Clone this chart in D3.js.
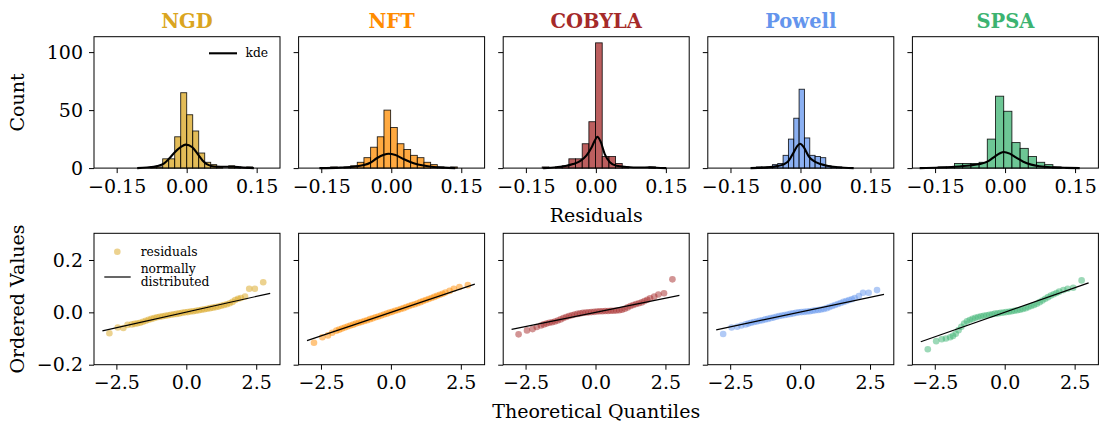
<!DOCTYPE html>
<html>
<head>
<meta charset="utf-8">
<script src="https://cdn.jsdelivr.net/npm/d3@7"></script>
<style>
  body { margin: 0; background: #fff; }
  text { font-family: "DejaVu Serif", serif; }
</style>
</head>
<body>
<svg id="chart" width="1099" height="423"></svg>
<script>
const optimizers = ["NGD", "NFT", "COBYLA", "Powell", "SPSA"];
const colors = ["#DAA520", "#FF8C00", "#A52A2A", "#6495ED", "#3CB371"];

// histogram: left edge of first bin, bin width, counts per bin
const binStart = [-0.0771, -0.1300, -0.1150, -0.0944, -0.1435];
const binWidth = [0.01286, 0.01429, 0.01429, 0.01143, 0.01757];
const histNGD    = [1, 1, 8, 8, 27, 65, 46, 32, 13, 5, 3, 1, 0, 2, 1, 0, 1];
const histNFT    = [1, 0, 1, 2, 5, 9, 18, 27, 50, 35, 21, 16, 11, 9, 5, 3, 1, 0, 1];
const histCOBYLA = [1, 0, 1, 2, 8, 8, 21, 40, 108, 10, 10, 4, 1, 0, 0, 0, 1];
const histPowell = [1, 1, 1, 3, 4, 11, 25, 43, 68, 26, 11, 10, 9, 2, 1, 1];
const histSPSA   = [1, 1, 4, 4, 4, 5, 25, 62, 49, 22, 17, 10, 5, 3, 1];
const histCounts = [histNGD, histNFT, histCOBYLA, histPowell, histSPSA];

// kde curves: [residual, count]
const kdeNGD = [[-0.106, 0], [-0.085, 0.5], [-0.063, 1.7], [-0.049, 3.8], [-0.038, 8], [-0.027, 13],
  [-0.013, 18], [-0.002, 20.2], [0.012, 18], [0.023, 12.4], [0.034, 6.6], [0.044, 3.2], [0.059, 1.4],
  [0.087, 1.2], [0.101, 1.2], [0.116, 0.6], [0.144, 0]];
const kdeNFT = [[-0.154, 0], [-0.109, 0.4], [-0.081, 1.2], [-0.059, 2.6], [-0.045, 4.6], [-0.031, 8.5],
  [-0.016, 11.5], [-0.006, 12.4], [0.009, 11.2], [0.026, 7.8], [0.048, 4.2], [0.069, 2.2], [0.091, 1.0],
  [0.112, 0.4], [0.137, 0]];
const kdeCOBYLA = [[-0.113, 0], [-0.084, 0.8], [-0.063, 2], [-0.049, 3.5], [-0.034, 6], [-0.02, 11],
  [-0.009, 18], [-0.002, 24], [0.003, 27], [0.01, 23], [0.019, 12], [0.03, 5], [0.044, 2], [0.066, 1],
  [0.094, 0.5], [0.116, 0.6], [0.13, 0.3], [0.151, 0]];
const kdePowell = [[-0.107, 0], [-0.071, 0.6], [-0.05, 1.7], [-0.036, 3.2], [-0.025, 6.5], [-0.014, 14],
  [-0.007, 19], [-0.001, 21], [0.007, 18], [0.018, 10], [0.029, 6], [0.043, 3.5], [0.057, 2],
  [0.079, 0.8], [0.114, 0]];
const kdeSPSA = [[-0.183, 0], [-0.14, 0.5], [-0.108, 1.2], [-0.076, 2.3], [-0.054, 3.5], [-0.036, 6],
  [-0.022, 10], [-0.011, 12.8], [-0.003, 13.9], [0.01, 12.5], [0.024, 9], [0.039, 5.5], [0.056, 3],
  [0.074, 1.6], [0.103, 0.6], [0.131, 0.2], [0.16, 0]];
const kdeCurves = [kdeNGD, kdeNFT, kdeCOBYLA, kdePowell, kdeSPSA];

// Q-Q plot: theoretical quantiles (shared) and ordered residuals per optimizer
const qqTheoretical = [-2.75, -2.45, -2.25, -2.1, -1.95, -1.85, -1.75, -1.65, -1.55, -1.45, -1.35, -1.25,
  -1.15, -1.05, -0.95, -0.85, -0.75, -0.65, -0.55, -0.45, -0.35, -0.25, -0.15, -0.05, 0.05, 0.15, 0.25,
  0.35, 0.45, 0.55, 0.65, 0.75, 0.85, 0.95, 1.05, 1.15, 1.25, 1.35, 1.45, 1.55, 1.65, 1.75, 1.85, 1.95,
  2.1, 2.25, 2.45, 2.75];
const qqNGD = [-0.080, -0.058, -0.060, -0.048, -0.046, -0.044, -0.042, -0.040, -0.036, -0.032, -0.028,
  -0.025, -0.022, -0.019, -0.017, -0.015, -0.013, -0.011, -0.009, -0.007, -0.006, -0.004, -0.002, 0.000,
  0.001, 0.003, 0.004, 0.006, 0.008, 0.010, 0.012, 0.014, 0.016, 0.018, 0.020, 0.022, 0.025, 0.028,
  0.031, 0.035, 0.040, 0.047, 0.052, 0.055, 0.060, 0.090, 0.090, 0.115];
const qqNFT = [-0.116, -0.095, -0.088, -0.078, -0.070, -0.066, -0.062, -0.058, -0.054, -0.050, -0.047,
  -0.043, -0.040, -0.037, -0.033, -0.030, -0.026, -0.023, -0.019, -0.016, -0.012, -0.008, -0.005, -0.001,
  0.002, 0.006, 0.009, 0.013, 0.016, 0.020, 0.024, 0.028, 0.031, 0.035, 0.039, 0.043, 0.047, 0.051,
  0.055, 0.059, 0.063, 0.067, 0.071, 0.076, 0.082, 0.090, 0.097, 0.104];
const qqCOBYLA = [-0.084, -0.069, -0.064, -0.056, -0.050, -0.046, -0.043, -0.040, -0.038, -0.035, -0.031,
  -0.027, -0.022, -0.018, -0.014, -0.011, -0.008, -0.006, -0.004, -0.002, -0.001, 0.000, 0.001, 0.002,
  0.003, 0.004, 0.004, 0.005, 0.005, 0.006, 0.006, 0.007, 0.008, 0.010, 0.014, 0.019, 0.024, 0.028,
  0.032, 0.035, 0.038, 0.043, 0.048, 0.054, 0.060, 0.068, 0.073, 0.126];
const qqPowell = [-0.083, -0.058, -0.055, -0.050, -0.046, -0.043, -0.040, -0.037, -0.035, -0.032, -0.030,
  -0.027, -0.025, -0.022, -0.020, -0.017, -0.014, -0.012, -0.010, -0.008, -0.006, -0.004, -0.002, 0.000,
  0.001, 0.002, 0.003, 0.004, 0.006, 0.008, 0.009, 0.011, 0.013, 0.016, 0.020, 0.024, 0.028, 0.032,
  0.036, 0.040, 0.043, 0.047, 0.050, 0.055, 0.062, 0.075, 0.075, 0.085];
const qqSPSA = [-0.141, -0.110, -0.103, -0.100, -0.095, -0.090, -0.082, -0.068, -0.055, -0.043, -0.034,
  -0.029, -0.025, -0.021, -0.018, -0.015, -0.013, -0.011, -0.009, -0.007, -0.005, -0.004, -0.002, -0.001,
  0.001, 0.002, 0.004, 0.006, 0.008, 0.010, 0.013, 0.016, 0.020, 0.024, 0.028, 0.033, 0.039, 0.045,
  0.052, 0.058, 0.064, 0.069, 0.074, 0.079, 0.085, 0.090, 0.094, 0.122];
const qqOrdered = [qqNGD, qqNFT, qqCOBYLA, qqPowell, qqSPSA];

// reference line of each Q-Q plot
const fitSlope = [0.0239, 0.0360, 0.0216, 0.0226, 0.0375];
const fitIntercept = [0.001, 0.0, 0.0, 0.001, 0.0];
const fitRange = [-3, 3];

const histXTicks = [-0.15, 0, 0.15];
const histYTicks = [0, 50, 100];
const qqXTicks = [-2.5, 0, 2.5];
const qqYTicks = [-0.2, 0, 0.2];

const svg = d3.select("#chart");
const W = 186, H = 131.4;
const left0 = 94, step = 204.6;
const topRow = 36.7, botRow = 233.3;
const fs = 19;
const legendFs = 12.3;

const histX = d3.scaleLinear().domain([-0.1986, 0.2]).range([0, W]);
const histY = d3.scaleLinear().domain([0, 113.3]).range([H, 0]);
const qqX = d3.scaleLinear().domain([-3.3, 3.35]).range([0, W]);
const qqY = d3.scaleLinear().domain([-0.2, 0.302]).range([H, 0]);

function styleAxis(g) {
  g.select(".domain").remove();
  g.selectAll(".tick line").attr("stroke", "#000").attr("stroke-width", 1);
  g.selectAll(".tick text").attr("fill", "#000").attr("font-size", fs)
    .attr("font-family", "DejaVu Serif");
}

optimizers.forEach((name, i) => {
  const x0 = left0 + i * step;

  // ---------- histogram row ----------
  const g = svg.append("g").attr("transform", `translate(${x0},${topRow})`);

  g.append("text")
    .attr("x", W / 2).attr("y", -9)
    .attr("text-anchor", "middle")
    .attr("font-size", 19.5).attr("font-weight", "bold")
    .attr("fill", colors[i])
    .text(name);

  g.append("g").selectAll("rect")
    .data(histCounts[i])
    .join("rect")
      .attr("x", (d, k) => histX(binStart[i] + k * binWidth[i]))
      .attr("y", d => histY(d))
      .attr("width", histX(binWidth[i]) - histX(0))
      .attr("height", d => histY(0) - histY(d))
      .attr("fill", colors[i]).attr("fill-opacity", 0.75)
      .attr("stroke", "#000").attr("stroke-opacity", 0.85).attr("stroke-width", 0.9);

  const kdeLine = d3.line()
    .x(d => histX(d[0]))
    .y(d => histY(d[1]))
    .curve(d3.curveMonotoneX);
  g.append("path")
    .attr("d", kdeLine(kdeCurves[i]))
    .attr("fill", "none").attr("stroke", "#000").attr("stroke-width", 2.1);

  g.append("g").attr("transform", `translate(0,${H})`)
    .call(d3.axisBottom(histX).tickValues(histXTicks).tickFormat(d3.format(".2f"))
      .tickSize(5).tickPadding(6))
    .call(styleAxis);
  g.append("g")
    .call(d3.axisLeft(histY).tickValues(histYTicks).tickSize(5).tickPadding(6)
      .tickFormat(i == 0 ? d3.format("d") : ""))
    .call(styleAxis);

  g.append("rect").attr("width", W).attr("height", H)
    .attr("fill", "none").attr("stroke", "#000").attr("stroke-width", 1);

  if (i == 0) {
    g.append("line").attr("x1", 115).attr("x2", 143).attr("y1", 16.6).attr("y2", 16.6)
      .attr("stroke", "#000").attr("stroke-width", 2.1);
    g.append("text").attr("x", 151.5).attr("y", 20.8).attr("font-size", legendFs).text("kde");
  }

  // ---------- Q-Q row ----------
  const q = svg.append("g").attr("transform", `translate(${x0},${botRow})`);

  q.append("g").selectAll("circle")
    .data(qqTheoretical)
    .join("circle")
      .attr("cx", d => qqX(d))
      .attr("cy", (d, k) => qqY(qqOrdered[i][k]))
      .attr("r", 3.3)
      .attr("fill", colors[i]).attr("fill-opacity", 0.5);

  q.append("line")
    .attr("x1", qqX(fitRange[0])).attr("x2", qqX(fitRange[1]))
    .attr("y1", qqY(fitIntercept[i] + fitSlope[i] * fitRange[0]))
    .attr("y2", qqY(fitIntercept[i] + fitSlope[i] * fitRange[1]))
    .attr("stroke", "#000").attr("stroke-width", 1.2);

  q.append("g").attr("transform", `translate(0,${H})`)
    .call(d3.axisBottom(qqX).tickValues(qqXTicks).tickFormat(d3.format(".1f"))
      .tickSize(5).tickPadding(6))
    .call(styleAxis);
  q.append("g")
    .call(d3.axisLeft(qqY).tickValues(qqYTicks).tickSize(5).tickPadding(6)
      .tickFormat(i == 0 ? d3.format(".1f") : ""))
    .call(styleAxis);

  q.append("rect").attr("width", W).attr("height", H)
    .attr("fill", "none").attr("stroke", "#000").attr("stroke-width", 1);

  if (i == 0) {
    q.append("circle").attr("cx", 23.3).attr("cy", 18.4).attr("r", 3.3)
      .attr("fill", colors[0]).attr("fill-opacity", 0.5);
    q.append("text").attr("x", 46.7).attr("y", 22.6).attr("font-size", legendFs).text("residuals");
    q.append("line").attr("x1", 10.3).attr("x2", 36.7).attr("y1", 43.7).attr("y2", 43.7)
      .attr("stroke", "#000").attr("stroke-width", 1.2);
    q.append("text").attr("x", 46.7).attr("y", 39.3).attr("font-size", legendFs).text("normally");
    q.append("text").attr("x", 46.7).attr("y", 52.8).attr("font-size", legendFs).text("distributed");
  }
});

// shared axis labels
svg.append("text")
  .attr("transform", `translate(24,${topRow + H / 2}) rotate(-90)`)
  .attr("text-anchor", "middle").attr("font-size", fs).text("Count");
svg.append("text")
  .attr("transform", `translate(24,${botRow + H / 2}) rotate(-90)`)
  .attr("text-anchor", "middle").attr("font-size", fs).text("Ordered Values");
svg.append("text")
  .attr("x", left0 + 2 * step + W / 2).attr("y", 222)
  .attr("text-anchor", "middle").attr("font-size", fs).text("Residuals");
svg.append("text")
  .attr("x", left0 + 2 * step + W / 2).attr("y", 418)
  .attr("text-anchor", "middle").attr("font-size", fs).text("Theoretical Quantiles");
</script>
</body>
</html>
